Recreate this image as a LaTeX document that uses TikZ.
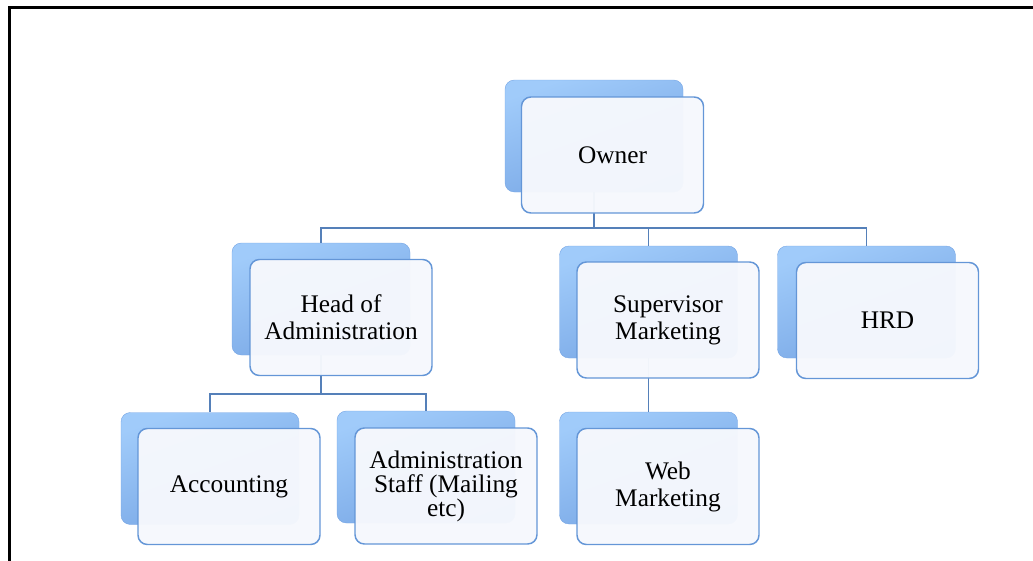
\documentclass[tikz,border=0pt]{standalone}
\usepackage{fontspec}
\setmainfont{Liberation Serif}
\usepackage{tikz}
\usetikzlibrary{positioning}

\definecolor{boxedge}{RGB}{100,150,215}
\definecolor{boxfill}{RGB}{246,248,253}
\definecolor{backtop}{RGB}{160,203,250}
\definecolor{backbot}{RGB}{118,165,228}
\definecolor{linkcol}{RGB}{85,128,185}

\begin{document}
\begin{tikzpicture}[
  x=0.75pt, y=-0.75pt,
  every node/.style={align=center, font=\fontsize{19}{20.25}\selectfont},
  back/.style={rectangle, minimum width=133.5pt, minimum height=84pt, draw=backbot, line width=0.3pt, top color=backtop, bottom color=backbot, shading angle=20, rounded corners=7pt},
  front/.style={rectangle, minimum width=136.5pt, minimum height=87pt, draw=boxedge, line width=1.1pt, fill=boxfill, fill opacity=0.97, text opacity=1, rounded corners=7pt},
  link/.style={draw=linkcol, line width=0.9pt}
]
\useasboundingbox (0,0) rectangle (1033,561);

% frame
\draw[line width=2.5pt] (9.5,561) -- (9.5,7.5) -- (1033,7.5);

% back boxes
\node[back] (owner-bk) at (594,136) {};
\node[back] (head-bk) at (321,299) {};
\node[back] (super-bk) at (648.5,302) {};
\node[back] (hrd-bk) at (866.5,302) {};
\node[back] (acc-bk) at (210,468.5) {};
\node[back] (staff-bk) at (426,467) {};
\node[back] (web-bk) at (648.5,468) {};

% connectors
\coordinate (bus1) at (0,228);
\coordinate (bus2) at (0,394);
\draw[link] (owner-bk.south) -- (owner-bk.south |- bus1) -| (head-bk.north);
\draw[link] (owner-bk.south |- bus1) -| (super-bk.north);
\draw[link] (owner-bk.south |- bus1) -| (hrd-bk.north);
\draw[link] (head-bk.south) -- (head-bk.south |- bus2) -| (acc-bk.north);
\draw[link] (head-bk.south |- bus2) -| (staff-bk.north);
\draw[link] (super-bk.south) -- (web-bk.north);

% front boxes
\node[front] (owner) at (612.5,155) {Owner};
\node[front] (head) at (341,317.5) {Head of\\Administration};
\node[front] (super) at (668,320) {Supervisor\\Marketing};
\node[front] (hrd) at (887.5,320.5) {HRD};
\node[front] (acc) at (229,486.5) {Accounting};
\node[front, font=\fontsize{19}{18}\selectfont] (staff) at (446,486) {Administration\\Staff (Mailing\\etc)};
\node[front] (web) at (668,486.5) {Web\\Marketing};

\end{tikzpicture}
\end{document}
